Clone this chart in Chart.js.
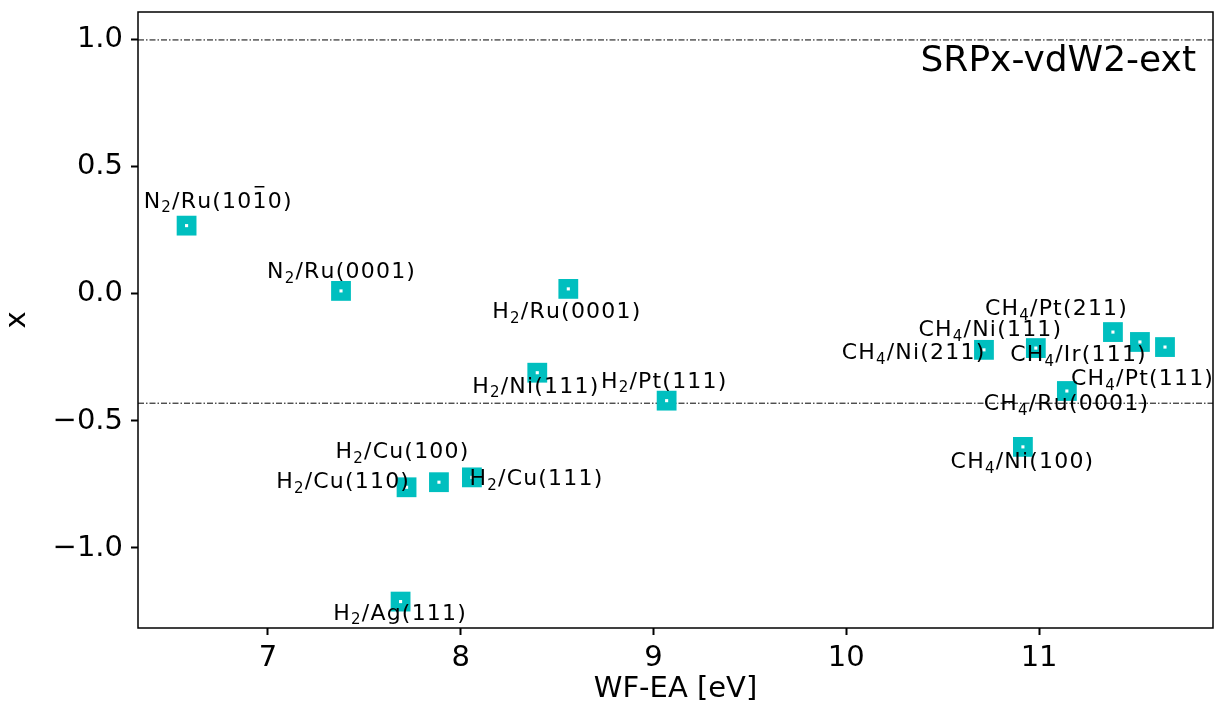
<!DOCTYPE html>
<html>
<head>
<meta charset="utf-8">
<script src="https://cdn.jsdelivr.net/npm/chart.js@4.4.0/dist/chart.umd.min.js"></script>
<style>
  html, body { margin: 0; padding: 0; background: #fff; overflow: hidden; }
  canvas { display: block; }
</style>
</head>
<body>
<canvas id="srpChart" width="1215" height="717"></canvas>
<script>
// system names: _X = subscript, ~X = overbar
var systems = ['N_2/Ru(10~10)', 'N_2/Ru(0001)', 'H_2/Ru(0001)', 'H_2/Ni(111)', 'H_2/Pt(111)',
  'H_2/Cu(110)', 'H_2/Cu(100)', 'H_2/Cu(111)', 'H_2/Ag(111)',
  'CH_4/Ni(211)', 'CH_4/Ni(111)', 'CH_4/Pt(211)', 'CH_4/Ir(111)', 'CH_4/Pt(111)',
  'CH_4/Ru(0001)', 'CH_4/Ni(100)'];
var wfEA = [6.578, 7.379, 8.558, 8.397, 9.068, 7.719, 7.887, 8.058, 7.688,
  10.714, 10.983, 11.383, 11.523, 11.653, 11.144, 10.916];
var xValues = [0.269, 0.012, 0.020, -0.310, -0.420, -0.761, -0.741, -0.722, -1.211,
  -0.220, -0.213, -0.150, -0.189, -0.209, -0.382, -0.602];
var refLines = [1.0, -0.43];
var xTicks = [7, 8, 9, 10, 11];
var yTicks = [-1.0, -0.5, 0.0, 0.5, 1.0];
var xRange = [6.326, 11.902];
var yRange = [-1.315, 1.11];

// label offsets (px) from each marker
var labelOffsets = [[31,-26],[0,-21],[-2,21],[-2,12],[-3,-21],[-64,-7],[-37,-32],[64,0],[-1,10],
  [-71,1],[-46,-20],[-57,-25],[-62,11],[-23,30],[-1,11],[-1,13]];

var FONT = '"DejaVu Sans", sans-serif';
var cyan = 'rgb(0,191,191)';

function pts() {
    return wfEA.map(function (v, i) { return { x: v, y: xValues[i] }; });
}

function drawRich(ctx, str, cx, cy, size, spacing) {
    var segs = [];
    for (var i = 0; i < str.length; i++) {
        var c = str[i];
        if (c === '_') segs.push({ t: str[++i], sub: true });
        else if (c === '~') segs.push({ t: str[++i], bar: true });
        else segs.push({ t: c });
    }
    var base = size + 'px ' + FONT;
    var small = Math.round(size * 0.7) + 'px ' + FONT;
    var w = 0;
    segs.forEach(function (s) {
        ctx.font = s.sub ? small : base;
        s.w = ctx.measureText(s.t).width + spacing;
        w += s.w;
    });
    w -= spacing;
    var x = cx - w / 2;
    var baseY = cy + size * 0.36;
    ctx.textAlign = 'left';
    ctx.textBaseline = 'alphabetic';
    segs.forEach(function (s) {
        ctx.font = s.sub ? small : base;
        ctx.fillText(s.t, x, s.sub ? baseY + size * 0.22 : baseY);
        if (s.bar) ctx.fillRect(x + (s.w - spacing) * 0.15, baseY - size * 0.98, (s.w - spacing) * 0.7, 1.5);
        x += s.w;
    });
}

var labelPlugin = {
    id: 'labels',
    afterDatasetsDraw: function (chart) {
        var ctx = chart.ctx, xs = chart.scales.x, ys = chart.scales.y, a = chart.chartArea;
        ctx.save();
        ctx.fillStyle = '#000';
        systems.forEach(function (s, i) {
            var px = xs.getPixelForValue(wfEA[i]) + labelOffsets[i][0];
            var py = ys.getPixelForValue(xValues[i]) + labelOffsets[i][1];
            drawRich(ctx, s, px, py, 22, 1.2);
        });
        ctx.font = '36px ' + FONT;
        ctx.textAlign = 'right';
        ctx.textBaseline = 'middle';
        ctx.fillText('SRPx-vdW2-ext', a.right - 17, a.top + 50);
        ctx.lineWidth = 1.5;
        ctx.strokeStyle = '#000';
        ctx.strokeRect(a.left, a.top, a.right - a.left, a.bottom - a.top);
        ctx.restore();
    }
};

var ctx = document.getElementById('srpChart').getContext('2d');
var datasets = [
    { label: 'centre', data: pts(), pointStyle: 'rect', pointRadius: 2.2, backgroundColor: '#fff', borderWidth: 0, order: 0 },
    { label: 'x', data: pts(), pointStyle: 'rect', pointRadius: 14, backgroundColor: cyan, borderWidth: 0, order: 1 }
];
refLines.forEach(function (v) {
    datasets.push({
        type: 'line', data: [{ x: xRange[0], y: v }, { x: xRange[1], y: v }],
        borderColor: '#000', borderWidth: 1, borderDash: [6, 2, 1.5, 2], pointRadius: 0, order: 2
    });
});

var srpChart = new Chart(ctx, {
    type: 'scatter',
    data: { datasets: datasets },
    options: {
        responsive: false,
        animation: false,
        layout: { autoPadding: false, padding: { top: 12, right: 2, left: 0, bottom: 0 } },
        plugins: { legend: { display: false }, tooltip: { enabled: false } },
        scales: {
            x: {
                type: 'linear', min: xRange[0], max: xRange[1],
                afterBuildTicks: function (s) { s.ticks = xTicks.map(function (v) { return { value: v }; }); },
                afterFit: function (s) { s.height = 89; s.paddingLeft = 0; s.paddingRight = 0; },
                grid: { drawOnChartArea: false, drawTicks: true, tickLength: 7, tickWidth: 2, tickColor: '#000' },
                border: { display: false },
                ticks: { color: '#000', font: { family: FONT, size: 29 }, padding: 6, maxRotation: 0,
                    callback: function (v) { return String(v); } },
                title: { display: true, text: 'WF-EA [eV]', color: '#000', font: { family: FONT, size: 29 }, padding: { top: 0, bottom: 10 } }
            },
            y: {
                type: 'linear', min: yRange[0], max: yRange[1],
                afterBuildTicks: function (s) { s.ticks = yTicks.map(function (v) { return { value: v }; }); },
                afterFit: function (s) { s.width = 138; s.paddingTop = 0; s.paddingBottom = 0; },
                grid: { drawOnChartArea: false, drawTicks: true, tickLength: 7, tickWidth: 2, tickColor: '#000' },
                border: { display: false },
                ticks: { color: '#000', font: { family: FONT, size: 29 }, padding: 8,
                    callback: function (v) { return v.toFixed(1).replace('-', '\u2212'); } },
                title: { display: true, text: 'x', color: '#000', font: { family: FONT, size: 29 }, padding: 0 }
            }
        }
    },
    plugins: [labelPlugin]
});
</script>
</body>
</html>
